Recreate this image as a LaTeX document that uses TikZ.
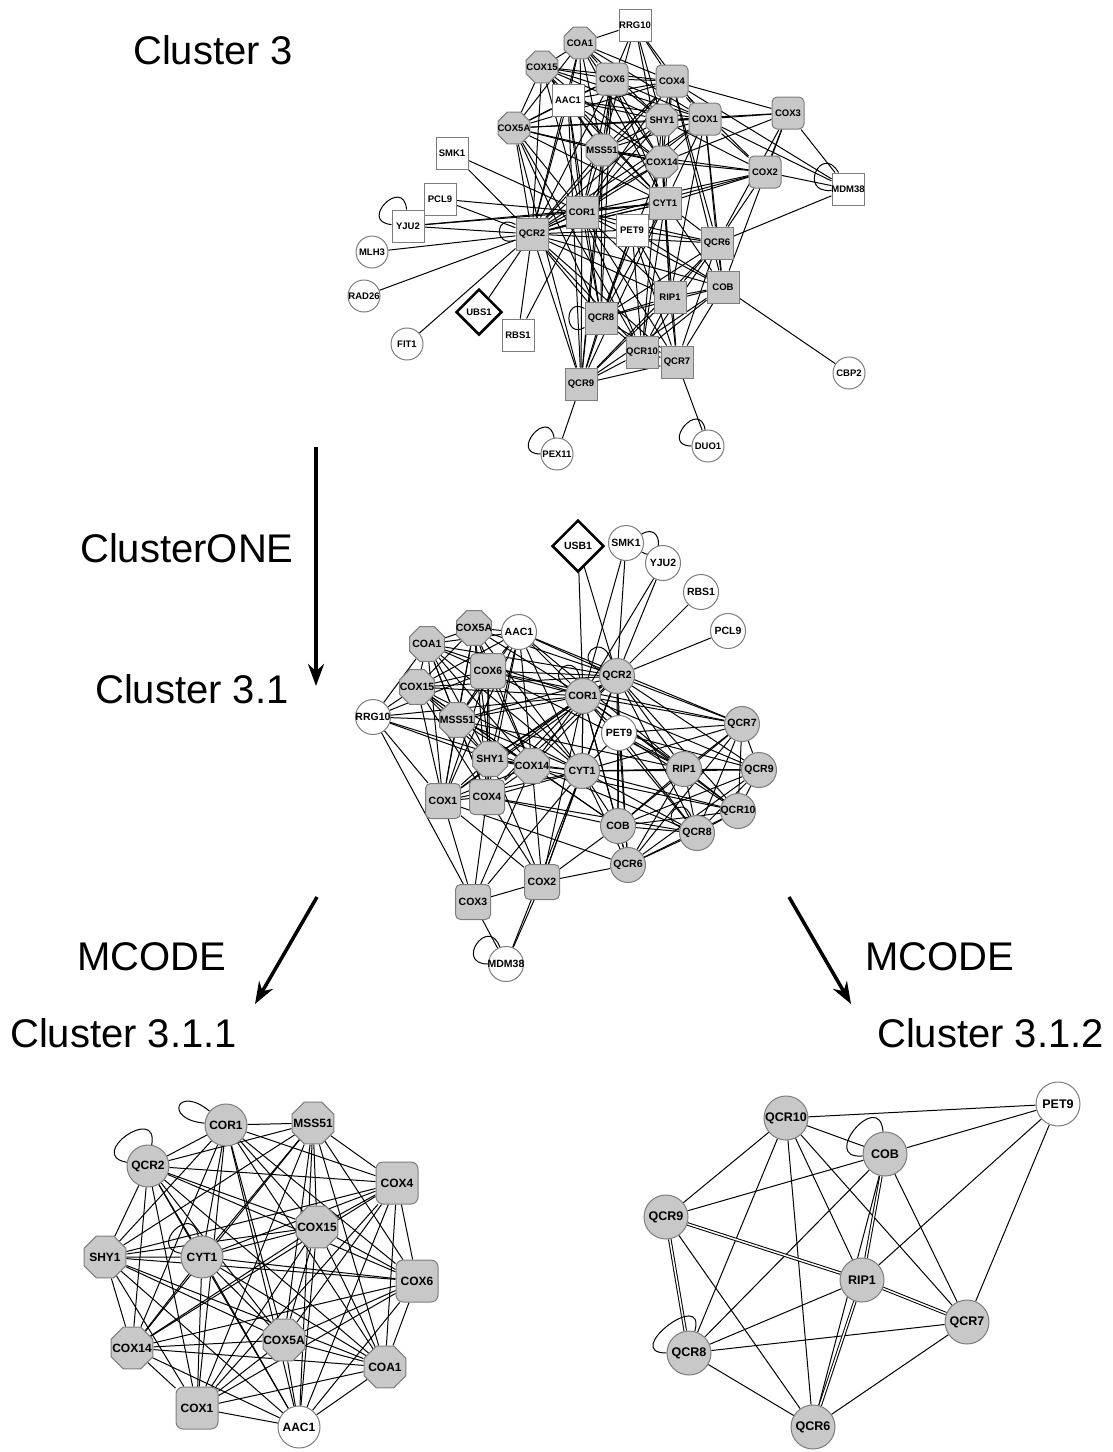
\documentclass[tikz,border=0pt]{standalone}
\usepackage{fontspec}
\setmainfont{Liberation Sans}
\usetikzlibrary{shapes.geometric,arrows.meta,backgrounds}

\definecolor{cplx}{RGB}{200,200,200}
\definecolor{rim}{RGB}{125,125,125}

% every pair of nodes in a list, with a name prefix
\newcommand\clique[2]{%
  \foreach \u [count=\i] in #2 {%
    \foreach \v [count=\j] in #2 {%
      \ifnum\i<\j \draw[link] (#1\u) -- (#1\v);\fi}}}

\begin{document}
\begin{tikzpicture}[x=1pt,y=-1pt,
  % names may run past the shape, as they do in the network plots
  base/.style={draw=rim, line width=1pt, inner sep=0pt, minimum size=\nsz, font=\bfseries\nfs,
    execute at begin node={\hbox to 0pt\bgroup\hss}, execute at end node={\hss\egroup}},
  gsq/.style={base, rectangle, fill=cplx},
  wsq/.style={base, rectangle, fill=white},
  rbox/.style={base, rectangle, rounded corners=5pt, fill=cplx},
  oct/.style={base, regular polygon, regular polygon sides=8, minimum size={1.08*\nsz}, fill=cplx},
  gcirc/.style={base, circle, fill=cplx},
  wcirc/.style={base, circle, fill=white},
  dia/.style={base, diamond, aspect=1, draw=black, line width=2.5pt, fill=white},
  link/.style={line width=1pt},
  flow/.style={line width=3.5pt, -{Stealth[length=22pt,width=16pt]}},
  lbl/.style={anchor=west, inner sep=0pt, font=\fontsize{40}{40}\selectfont}]

\useasboundingbox (0,0) rectangle (1113,1452);

\def\coxset{COA1,COX15,COX6,COX4,AAC1,COX5A,SHY1,COX1,MSS51,COX14,COR1,CYT1,QCR2}
\def\bcset{COR1,QCR2,CYT1,PET9,QCR6,COB,RIP1,QCR8,QCR10,QCR7,QCR9}

% ---- cluster 3
\begin{scope}
  \def\nsz{32}\def\nfs{\fontsize{9.5}{9.5}\selectfont}
  \node[oct] (tCOA1) at (580,43) {COA1};
  \node[oct] (tCOX15) at (542,67) {COX15};
  \node[oct] (tCOX5A) at (514,128) {COX5A};
  \node[oct] (tSHY1) at (662,120) {SHY1};
  \node[oct] (tMSS51) at (602,150) {MSS51};
  \node[oct] (tCOX14) at (662,162) {COX14};
  \node[rbox] (tCOX6) at (612,79) {COX6};
  \node[rbox] (tCOX4) at (672,81) {COX4};
  \node[rbox] (tCOX1) at (705,119) {COX1};
  \node[rbox] (tCOX3) at (788,113) {COX3};
  \node[rbox] (tCOX2) at (765,172) {COX2};
  \node[gsq] (tCOR1) at (582,212) {COR1};
  \node[gsq] (tCYT1) at (665,203) {CYT1};
  \node[gsq] (tQCR2) at (532,234) {QCR2};
  \node[gsq] (tQCR6) at (717,243) {QCR6};
  \node[gsq] (tCOB) at (723,287) {COB};
  \node[gsq] (tRIP1) at (670,297) {RIP1};
  \node[gsq] (tQCR8) at (601,318) {QCR8};
  \node[gsq] (tQCR10) at (642,352) {QCR10};
  \node[gsq] (tQCR7) at (677,362) {QCR7};
  \node[gsq] (tQCR9) at (581,384) {QCR9};
  \node[wsq] (tRRG10) at (635,25) {RRG10};
  \node[wsq] (tAAC1) at (568,100) {AAC1};
  \node[wsq] (tSMK1) at (452,153) {SMK1};
  \node[wsq] (tPCL9) at (440,199) {PCL9};
  \node[wsq] (tYJU2) at (408,226) {YJU2};
  \node[wsq] (tPET9) at (632,230) {PET9};
  \node[wsq] (tMDM38) at (848,189) {MDM38};
  \node[wsq] (tRBS1) at (518,335) {RBS1};
  \node[wcirc] (tMLH3) at (372,252) {MLH3};
  \node[wcirc] (tRAD26) at (364,296) {RAD26};
  \node[wcirc] (tFIT1) at (407,344) {FIT1};
  \node[wcirc] (tCBP2) at (849,373) {CBP2};
  \node[wcirc] (tPEX11) at (557,454) {PEX11};
  \node[wcirc] (tDUO1) at (708,446) {DUO1};
  \node[dia, minimum size=46] (tUBS1) at (479,312) {UBS1};

  \begin{scope}[on background layer]
    \clique{t}{\coxset}
    \clique{t}{\bcset}
    \foreach \a/\b in {RRG10/COA1,RRG10/COX6,RRG10/COX4,RRG10/SHY1,RRG10/COX1,RRG10/COX14,RRG10/MSS51,
        SMK1/QCR2,SMK1/COR1,PCL9/QCR2,PCL9/COR1,YJU2/QCR2,YJU2/COR1,YJU2/CYT1,MLH3/QCR2,RAD26/QCR2,
        FIT1/QCR2,UBS1/QCR2,RBS1/QCR2,RBS1/COR1,PEX11/QCR9,DUO1/QCR7,CBP2/COB,
        MDM38/COX3,MDM38/COX2,MDM38/COX1,MDM38/COX4,MDM38/QCR6,
        COX3/COX4,COX3/COX1,COX3/COX2,COX3/SHY1,COX3/COX14,COX3/QCR6,COX3/COB,
        COX2/COX1,COX2/COX4,COX2/COX14,COX2/SHY1,COX2/CYT1,COX2/COR1,COX2/MSS51,COX2/QCR6,COX2/QCR2,
        COX1/QCR6,COX1/RIP1,COX4/COB,COX14/QCR8,MSS51/QCR8,SHY1/QCR10,COX6/QCR9,AAC1/QCR9,
        COX5A/QCR9,COX5A/QCR8,AAC1/QCR8,COX6/QCR8,COX4/QCR6,COX1/COB,COX14/RIP1,MSS51/QCR9,COX5A/QCR10}
      \draw[link] (t\a) -- (t\b);
    \draw[link] (tYJU2) to[out=95,in=175,distance=34pt] (tYJU2);
    \draw[link] (tPEX11) to[out=100,in=180,distance=32pt] (tPEX11);
    \draw[link] (tDUO1) to[out=100,in=180,distance=32pt] (tDUO1);
    \draw[link] (tMDM38) to[out=120,in=185,distance=34pt] (tMDM38);
    \draw[link] (tQCR2) to[out=150,in=200,distance=24pt] (tQCR2);
    \draw[link] (tQCR8) to[out=150,in=210,distance=24pt] (tQCR8);
  \end{scope}
\end{scope}

% ---- cluster 3.1
\begin{scope}
  \def\nsz{35}\def\nfs{\fontsize{10.5}{10.5}\selectfont}
  \node[oct] (mCOX5A) at (474,628) {COX5A};
  \node[oct] (mCOA1) at (427,644) {COA1};
  \node[oct] (mCOX15) at (417,687) {COX15};
  \node[oct] (mMSS51) at (457,720) {MSS51};
  \node[oct] (mSHY1) at (490,759) {SHY1};
  \node[oct] (mCOX14) at (532,766) {COX14};
  \node[rbox] (mCOX6) at (488,671) {COX6};
  \node[rbox] (mCOX1) at (443,801) {COX1};
  \node[rbox] (mCOX4) at (487,797) {COX4};
  \node[rbox] (mCOX2) at (542,882) {COX2};
  \node[rbox] (mCOX3) at (473,902) {COX3};
  \node[gcirc] (mQCR2) at (617,676) {QCR2};
  \node[gcirc] (mCOR1) at (583,696) {COR1};
  \node[gcirc] (mQCR7) at (742,724) {QCR7};
  \node[gcirc] (mCYT1) at (582,771) {CYT1};
  \node[gcirc] (mRIP1) at (684,769) {RIP1};
  \node[gcirc] (mQCR9) at (759,770) {QCR9};
  \node[gcirc] (mQCR10) at (738,811) {QCR10};
  \node[gcirc] (mCOB) at (618,826) {COB};
  \node[gcirc] (mQCR8) at (697,833) {QCR8};
  \node[gcirc] (mQCR6) at (628,865) {QCR6};
  \node[wcirc] (mSMK1) at (626,543) {SMK1};
  \node[wcirc] (mYJU2) at (663,563) {YJU2};
  \node[wcirc] (mRBS1) at (701,592) {RBS1};
  \node[wcirc] (mPCL9) at (728,631) {PCL9};
  \node[wcirc] (mAAC1) at (519,632) {AAC1};
  \node[wcirc] (mRRG10) at (373,717) {RRG10};
  \node[wcirc] (mPET9) at (619,733) {PET9};
  \node[wcirc] (mMDM38) at (506,964) {MDM38};
  \node[dia, minimum size=52] (mUSB1) at (578,546) {USB1};

  \begin{scope}[on background layer]
    \clique{m}{\coxset}
    \clique{m}{\bcset}
    \foreach \a/\b in {USB1/COR1,USB1/QCR2,SMK1/COR1,SMK1/QCR2,YJU2/QCR2,YJU2/COR1,RBS1/QCR2,PCL9/QCR2,
        RRG10/COA1,RRG10/COX15,RRG10/MSS51,RRG10/COX6,RRG10/COX1,RRG10/COX14,RRG10/SHY1,RRG10/COR1,RRG10/COX3,
        COX3/COX1,COX3/COX4,COX3/COX2,COX3/MDM38,COX3/COX14,COX3/CYT1,
        COX2/COX1,COX2/COX4,COX2/COX14,COX2/CYT1,COX2/COR1,COX2/SHY1,COX2/QCR2,COX2/MDM38,COX2/COB,COX2/QCR6,
        MDM38/CYT1,COX14/QCR8,COX6/RIP1,AAC1/QCR7,COX4/COB,COX1/QCR6,SHY1/QCR10,MSS51/RIP1,COX15/COB,
        COX6/QCR7,AAC1/RIP1,COX14/COB,COX4/QCR8}
      \draw[link] (m\a) -- (m\b);
    \draw[link] (mSMK1) to[out=30,in=-30,distance=26pt] (mSMK1);
    \draw[link] (mMDM38) to[out=110,in=180,distance=34pt] (mMDM38);
    \draw[link] (mQCR2) to[out=110,in=160,distance=30pt] (mQCR2);
    \draw[link] (mCOR1) to[out=100,in=150,distance=28pt] (mCOR1);
    \draw[link] (mQCR8) to[out=110,in=160,distance=24pt] (mQCR8);
  \end{scope}
\end{scope}

% ---- cluster 3.1.1
\begin{scope}
  \def\nsz{42}\def\nfs{\fontsize{12}{12}\selectfont}
  \node[gcirc] (lCOR1) at (226,1125) {COR1};
  \node[gcirc] (lQCR2) at (148,1166) {QCR2};
  \node[gcirc] (lCYT1) at (202,1257) {CYT1};
  \node[oct] (lMSS51) at (313,1123) {MSS51};
  \node[oct] (lCOX15) at (317,1227) {COX15};
  \node[oct] (lSHY1) at (105,1257) {SHY1};
  \node[oct] (lCOX14) at (132,1348) {COX14};
  \node[oct] (lCOX5A) at (284,1340) {COX5A};
  \node[oct] (lCOA1) at (385,1367) {COA1};
  \node[rbox, rounded corners=7pt] (lCOX4) at (397,1183) {COX4};
  \node[rbox, rounded corners=7pt] (lCOX6) at (417,1281) {COX6};
  \node[rbox, rounded corners=7pt] (lCOX1) at (197,1408) {COX1};
  \node[wcirc] (lAAC1) at (299,1427) {AAC1};

  \begin{scope}[on background layer]
    \clique{l}{\coxset}
    \draw[link] (lCOR1) to[out=140,in=175,distance=42pt] (lCOR1);
    \draw[link] (lQCR2) to[out=80,in=170,distance=42pt] (lQCR2);
    \draw[link] (lCYT1) to[out=100,in=170,distance=34pt] (lCYT1);
  \end{scope}
\end{scope}

% ---- cluster 3.1.2
\begin{scope}
  \def\nsz{44}\def\nfs{\fontsize{12.5}{12.5}\selectfont}
  \node[gcirc] (rQCR10) at (786,1118) {QCR10};
  \node[gcirc] (rCOB) at (885,1154) {COB};
  \node[gcirc] (rQCR9) at (666,1217) {QCR9};
  \node[gcirc] (rRIP1) at (862,1280) {RIP1};
  \node[gcirc] (rQCR7) at (967,1322) {QCR7};
  \node[gcirc] (rQCR8) at (689,1353) {QCR8};
  \node[gcirc] (rQCR6) at (813,1427) {QCR6};
  \node[wcirc] (rPET9) at (1058,1104) {PET9};

  \begin{scope}[on background layer]
    \foreach \a/\b in {QCR10/PET9,QCR10/COB,QCR10/QCR9,QCR10/QCR8,QCR10/QCR6,QCR10/RIP1,QCR10/QCR7,
        COB/PET9,COB/QCR9,COB/QCR8,COB/QCR6,COB/QCR7,PET9/RIP1,PET9/QCR7,QCR9/QCR6,
        RIP1/QCR8,QCR8/QCR7,QCR8/QCR6,QCR7/QCR6}
      \draw[link] (r\a) -- (r\b);
    \foreach \a/\b in {COB/RIP1,QCR9/RIP1,RIP1/QCR7,RIP1/QCR6,QCR9/QCR8}
      \draw[link, double distance=1.5pt] (r\a) -- (r\b);
    \draw[link] (rCOB) to[out=95,in=185,distance=44pt] (rCOB);
    \draw[link] (rQCR8) to[out=75,in=180,distance=46pt] (rQCR8);
  \end{scope}
\end{scope}

% ---- labels and steps
\node[lbl] (c3) at (133,50) {Cluster 3};
\node[lbl] (one) at (80,548) {ClusterONE};
\node[lbl] (c31) at (95,689) {Cluster 3.1};
\node[lbl] (mcl) at (77,957) {MCODE};
\node[lbl] (c311) at (10,1033) {Cluster 3.1.1};
\node[lbl] (mcr) at (865,957) {MCODE};
\node[lbl] (c312) at (877,1033) {Cluster 3.1.2};

\coordinate (s1) at (316,447);
\coordinate (e1) at (316,686);
\coordinate (s2) at (317,897);
\coordinate (e2) at (255,1004);
\coordinate (s3) at (789,897);
\coordinate (e3) at (851,1004);
\draw[flow] (s1) -- (e1);
\draw[flow] (s2) -- (e2);
\draw[flow] (s3) -- (e3);
\end{tikzpicture}
\end{document}
